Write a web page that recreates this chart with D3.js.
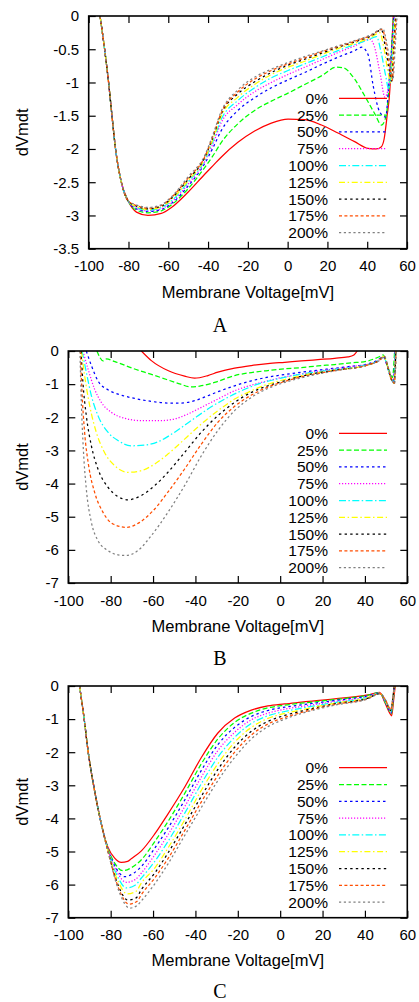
<!DOCTYPE html>
<html>
<head>
<meta charset="utf-8">
<script src="https://cdn.jsdelivr.net/npm/d3@7"></script>
<style>
  body { margin: 0; background: #fff; }
  text { font-family: "Liberation Sans", Arial, sans-serif; }
</style>
</head>
<body>
<svg id="chart" width="419" height="1002"></svg>
<script>
// legend labels and tick values
const seriesLabels = ["0%", "25%", "50%", "75%", "100%", "125%", "150%", "175%", "200%"];
const xTicks = [-100, -80, -60, -40, -20, 0, 20, 40, 60];
const yTicksA = [0, -0.5, -1, -1.5, -2, -2.5, -3, -3.5];
const yTicksB = [0, -1, -2, -3, -4, -5, -6, -7];

// gnuplot style line types
const lineColors = ["#ff0000", "#00ff00", "#0000ff", "#ff00ff", "#00ffff", "#ffff00", "#000000", "#ff4d00", "#808080"];
const lineDashes = ["", "5,2.5", "2.5,3", "1.2,1.8", "7,2.4,1.5,2.4", "6,2.6,1.5,2.6",
                    "2.4,3.2", "3,2.4", "2.2,2.6"];

// panel A : [membrane voltage, dVm/dt]
const headA = [[-94.3,0],[-92,-0.5],[-90,-1],[-88.3,-1.5],[-86.5,-2],[-83.6,-2.5],[-80.2,-2.78]];
const seriesA = [
  headA.concat([[-76,-2.95],[-70.2,-3.0],[-63.5,-2.97],[-58.4,-2.88],[-50.1,-2.65],[-41.7,-2.38],[-37.5,-2.25],[-33.3,-2.12],[-25,-1.9],[-16.6,-1.73],[-8.2,-1.61],[0.2,-1.55],[8.6,-1.56],[17,-1.64],[25.3,-1.76],[33.7,-1.89],[40.4,-1.99],[44.6,-2.0],[47,-1.97],[48.5,-1.85],[50,-1.5],[51.4,-1.1],[52.3,-0.5],[53.1,0]]),
  headA.concat([[-76,-2.92],[-70.2,-2.96],[-63.5,-2.93],[-58.4,-2.84],[-50.1,-2.6],[-41.7,-2.28],[-37.5,-2.1],[-33.3,-1.9],[-25,-1.62],[-16.6,-1.42],[-8.2,-1.28],[0.2,-1.16],[8.6,-1.03],[17,-0.9],[24.5,-0.77],[28,-0.78],[33.7,-0.95],[38.7,-1.2],[43.8,-1.47],[47.2,-1.64],[49.5,-1.5],[51,-1.05],[52.2,-0.5],[53.2,0]]),
  headA.concat([[-76,-2.9],[-70.2,-2.94],[-63.5,-2.91],[-58.4,-2.82],[-50.1,-2.56],[-41.7,-2.22],[-37.5,-1.98],[-33.3,-1.72],[-25,-1.42],[-16.6,-1.23],[-8.2,-1.08],[0.2,-0.96],[8.6,-0.85],[17,-0.73],[25.3,-0.62],[33.7,-0.52],[37.2,-0.47],[40.4,-0.58],[43,-1.05],[46.4,-1.45],[49.3,-1.52],[50.8,-1.05],[52.3,-0.5],[53.4,0]]),
  headA.concat([[-76,-2.89],[-70.2,-2.93],[-63.5,-2.9],[-58.4,-2.8],[-50.1,-2.53],[-41.7,-2.19],[-37.5,-1.92],[-33.3,-1.6],[-25,-1.33],[-16.6,-1.14],[-8.2,-1.0],[0.2,-0.88],[8.6,-0.77],[17,-0.66],[25.3,-0.55],[33.7,-0.45],[41.3,-0.35],[43.5,-0.45],[46.4,-0.85],[48.9,-1.22],[50.5,-1.1],[52.3,-0.55],[53.6,0]]),
  headA.concat([[-76,-2.88],[-70.2,-2.92],[-63.5,-2.88],[-58.4,-2.78],[-50.1,-2.5],[-41.7,-2.17],[-37.5,-1.88],[-33.3,-1.55],[-25,-1.27],[-16.6,-1.08],[-8.2,-0.93],[0.2,-0.82],[8.6,-0.72],[17,-0.62],[25.3,-0.52],[33.7,-0.43],[40.4,-0.36],[44.7,-0.31],[47,-0.55],[49.3,-0.9],[50.8,-1.1],[52.5,-0.6],[53.8,0]]),
  headA.concat([[-76,-2.87],[-70.2,-2.91],[-63.5,-2.87],[-58.4,-2.76],[-50.1,-2.48],[-41.7,-2.15],[-37.5,-1.85],[-33.3,-1.5],[-25,-1.22],[-16.6,-1.03],[-8.2,-0.88],[0.2,-0.77],[8.6,-0.68],[17,-0.58],[25.3,-0.49],[33.7,-0.41],[42,-0.32],[46.3,-0.25],[48.5,-0.5],[50.5,-0.85],[51.8,-1.0],[53,-0.5],[54,0]]),
  headA.concat([[-76,-2.86],[-70.2,-2.9],[-63.5,-2.86],[-58.4,-2.74],[-50.1,-2.46],[-41.7,-2.13],[-37.5,-1.82],[-33.3,-1.47],[-25,-1.17],[-16.6,-0.99],[-8.2,-0.85],[0.2,-0.74],[8.6,-0.65],[17,-0.56],[25.3,-0.47],[33.7,-0.39],[42,-0.3],[47.2,-0.21],[49,-0.45],[51,-0.8],[52.3,-0.98],[53.3,-0.5],[54.3,0]]),
  headA.concat([[-76,-2.85],[-70.2,-2.89],[-63.5,-2.85],[-58.4,-2.73],[-50.1,-2.44],[-41.7,-2.12],[-37.5,-1.8],[-33.3,-1.45],[-25,-1.14],[-16.6,-0.95],[-8.2,-0.82],[0.2,-0.72],[8.6,-0.63],[17,-0.54],[25.3,-0.46],[33.7,-0.38],[42,-0.29],[47.5,-0.2],[49.5,-0.42],[51.4,-0.78],[52.6,-0.97],[53.6,-0.5],[54.6,0]]),
  headA.concat([[-76,-2.84],[-70.2,-2.88],[-63.5,-2.84],[-58.4,-2.72],[-50.1,-2.42],[-41.7,-2.1],[-37.5,-1.78],[-33.3,-1.43],[-25,-1.11],[-16.6,-0.92],[-8.2,-0.8],[0.2,-0.7],[8.6,-0.61],[17,-0.53],[25.3,-0.45],[33.7,-0.37],[42,-0.28],[47.8,-0.19],[49.8,-0.4],[51.7,-0.75],[52.9,-0.96],[54,-0.5],[55,0]])
];

// panel B
const seriesB = [
  [[-65.5,0],[-60.8,-0.29],[-53,-0.59],[-45.1,-0.76],[-40.4,-0.82],[-34.1,-0.74],[-29.4,-0.64],[-21.5,-0.52],[-13.6,-0.44],[-5.8,-0.38],[2.1,-0.34],[10,-0.3],[17.8,-0.26],[25.7,-0.22],[32,-0.18],[34.8,-0.12],[36.4,0]],
  [[-86.5,0],[-83.5,-0.3],[-82,-0.24],[-78,-0.32],[-69.3,-0.53],[-60,-0.72],[-53.6,-0.86],[-47,-1.0],[-42.6,-1.08],[-38,-1.06],[-30,-0.93],[-21.5,-0.74],[-13.6,-0.65],[-5.8,-0.59],[2.1,-0.54],[10,-0.5],[17.8,-0.45],[25.7,-0.41],[33.6,-0.36],[41.4,-0.3],[46.5,-0.18],[48.5,-0.12],[50.2,-0.35],[51.8,-0.65],[53,-0.8],[54,0]],
  [[-91.5,0],[-89.1,-0.44],[-86,-0.9],[-81.3,-1.17],[-76.6,-1.3],[-68.7,-1.43],[-60.8,-1.52],[-53,-1.57],[-46.7,-1.57],[-40.4,-1.5],[-34.1,-1.35],[-29.4,-1.23],[-21.5,-1.05],[-13.6,-0.9],[-5.8,-0.79],[2.1,-0.71],[10,-0.64],[17.8,-0.58],[25.7,-0.52],[33.6,-0.46],[41.4,-0.39],[46.2,-0.27],[48.5,-0.17],[50.5,-0.45],[52.2,-0.8],[53.4,-0.93],[54.2,0]],
  [[-93.1,0],[-90.7,-0.54],[-87.6,-1.15],[-84.4,-1.55],[-79.7,-1.85],[-73.4,-2.03],[-65.5,-2.1],[-56.1,-2.1],[-49.8,-2.05],[-43.5,-1.9],[-37.2,-1.7],[-29.4,-1.45],[-21.5,-1.2],[-13.6,-1.03],[-5.8,-0.9],[2.1,-0.78],[10,-0.69],[17.8,-0.61],[25.7,-0.54],[33.6,-0.47],[41.4,-0.4],[46.5,-0.28],[48.7,-0.16],[50.6,-0.48],[52.4,-0.85],[53.5,-0.96],[54.3,0]],
  [[-93.5,0],[-91.5,-0.64],[-89.1,-1.35],[-86,-1.95],[-81.3,-2.45],[-76.6,-2.7],[-70.3,-2.86],[-64,-2.84],[-57.7,-2.74],[-49.8,-2.45],[-42,-2.1],[-34.1,-1.75],[-26.2,-1.45],[-18.3,-1.2],[-10.5,-1.0],[-2.6,-0.86],[10,-0.7],[25.7,-0.56],[41.4,-0.41],[46.6,-0.28],[48.8,-0.16],[50.7,-0.5],[52.6,-0.88],[53.6,-0.97],[54.4,0]],
  [[-93.8,0],[-92.3,-0.74],[-89.9,-1.65],[-86.8,-2.45],[-82.9,-3.06],[-78.1,-3.46],[-71.8,-3.66],[-65.5,-3.61],[-59.2,-3.41],[-53,-3.11],[-45.1,-2.66],[-37.2,-2.2],[-29.4,-1.8],[-21.5,-1.45],[-13.6,-1.2],[-5.8,-1.0],[2.1,-0.86],[10,-0.74],[25.7,-0.58],[41.4,-0.42],[46.7,-0.28],[48.9,-0.16],[50.8,-0.5],[52.7,-0.9],[53.7,-0.97],[54.5,0]],
  [[-94,0],[-93.1,-0.95],[-91.5,-1.95],[-89.1,-2.86],[-86,-3.56],[-81.3,-4.11],[-76.6,-4.39],[-71.8,-4.49],[-65.5,-4.36],[-59.2,-4.06],[-53,-3.66],[-45.1,-3.06],[-37.2,-2.45],[-29.4,-1.95],[-21.5,-1.55],[-13.6,-1.25],[-5.8,-1.05],[2.1,-0.9],[10,-0.76],[25.7,-0.58],[41.4,-0.42],[46.8,-0.28],[49,-0.16],[50.9,-0.52],[52.8,-0.9],[53.8,-0.97],[54.6,0]],
  [[-94.3,0],[-93.6,-1.15],[-92.3,-2.45],[-90.4,-3.46],[-87.6,-4.26],[-83.6,-4.87],[-78.9,-5.22],[-72.6,-5.32],[-66.3,-5.17],[-60,-4.82],[-53,-4.26],[-45.1,-3.56],[-37.2,-2.81],[-29.4,-2.15],[-21.5,-1.67],[-13.6,-1.33],[-5.8,-1.09],[2.1,-0.92],[10,-0.78],[25.7,-0.59],[41.4,-0.42],[46.9,-0.28],[49.1,-0.16],[51,-0.52],[52.9,-0.9],[53.9,-0.97],[54.7,0]],
  [[-94.5,0],[-93.9,-1.45],[-92.9,-2.96],[-91.5,-4.16],[-89.1,-5.17],[-86,-5.72],[-81.3,-6.02],[-76.6,-6.15],[-72.6,-6.17],[-67.1,-6.02],[-60.8,-5.57],[-53,-4.87],[-45.1,-4.06],[-37.2,-3.16],[-29.4,-2.4],[-21.5,-1.8],[-13.6,-1.4],[-5.8,-1.13],[2.1,-0.95],[10,-0.81],[25.7,-0.6],[41.4,-0.42],[47,-0.28],[49.2,-0.16],[51.1,-0.52],[53,-0.9],[54,-0.97],[54.8,0]]
];

// panel C
const headC = [[-94.7,0],[-92.5,-1.0],[-90.7,-1.95],[-87.6,-3.16],[-84.4,-4.17]];
const seriesC = [
  headC.concat([[-81.3,-4.87],[-78.1,-5.2],[-75,-5.33],[-72,-5.3],[-70.3,-5.22],[-65.5,-4.98],[-59.2,-4.47],[-53,-3.87],[-45.1,-3.06],[-37.2,-2.16],[-29.4,-1.42],[-21.5,-0.97],[-13.6,-0.73],[-5.8,-0.6],[2.1,-0.54],[10,-0.49],[25.7,-0.39],[41.4,-0.27],[46.9,-0.19],[49.4,-0.5],[51.7,-0.82],[52.6,-0.9],[53.6,-0.4],[54.3,0]]),
  headC.concat([[-81.3,-4.9],[-78.1,-5.35],[-74.2,-5.58],[-70,-5.48],[-65.5,-5.25],[-59.2,-4.7],[-53,-4.1],[-45.1,-3.25],[-37.2,-2.35],[-29.4,-1.6],[-21.5,-1.1],[-13.6,-0.82],[-5.8,-0.66],[2.1,-0.58],[10,-0.52],[25.7,-0.41],[41.4,-0.28],[46.9,-0.2],[49.5,-0.48],[51.6,-0.76],[52.4,-0.84],[53.4,-0.4],[54.1,0]]),
  headC.concat([[-81.3,-4.92],[-77.5,-5.5],[-73.4,-5.76],[-69,-5.65],[-65.5,-5.45],[-59.2,-4.9],[-53,-4.3],[-45.1,-3.45],[-37.2,-2.55],[-29.4,-1.77],[-21.5,-1.25],[-13.6,-0.92],[-5.8,-0.74],[2.1,-0.64],[10,-0.57],[25.7,-0.44],[41.4,-0.3],[46.9,-0.21],[49.5,-0.47],[51.5,-0.74],[52.3,-0.82],[53.3,-0.4],[54,0]]),
  headC.concat([[-81.3,-4.94],[-77,-5.62],[-72.6,-5.93],[-68.5,-5.85],[-65.5,-5.65],[-59.2,-5.1],[-53,-4.5],[-45.1,-3.65],[-37.2,-2.75],[-29.4,-1.95],[-21.5,-1.4],[-13.6,-1.02],[-5.8,-0.82],[2.1,-0.7],[10,-0.62],[25.7,-0.47],[41.4,-0.32],[46.9,-0.21],[49.6,-0.46],[51.5,-0.72],[52.3,-0.8],[53.3,-0.4],[54,0]]),
  headC.concat([[-81.3,-4.96],[-76.8,-5.75],[-72.6,-6.1],[-68.5,-6.02],[-65.5,-5.8],[-59.2,-5.3],[-53,-4.7],[-45.1,-3.85],[-37.2,-2.95],[-29.4,-2.15],[-21.5,-1.55],[-13.6,-1.13],[-5.8,-0.9],[2.1,-0.77],[10,-0.67],[25.7,-0.5],[41.4,-0.34],[46.9,-0.22],[49.6,-0.45],[51.4,-0.7],[52.2,-0.78],[53.2,-0.4],[53.9,0]]),
  headC.concat([[-81.3,-4.97],[-76.5,-5.9],[-72.2,-6.28],[-68,-6.2],[-65.5,-5.95],[-59.2,-5.5],[-53,-4.9],[-45.1,-4.05],[-37.2,-3.15],[-29.4,-2.35],[-21.5,-1.7],[-13.6,-1.25],[-5.8,-0.98],[2.1,-0.83],[10,-0.72],[25.7,-0.52],[41.4,-0.35],[46.9,-0.22],[49.6,-0.44],[51.4,-0.68],[52.2,-0.76],[53.2,-0.4],[53.9,0]]),
  headC.concat([[-81.3,-4.98],[-76.3,-6.05],[-71.8,-6.47],[-68,-6.4],[-65.5,-6.15],[-59.2,-5.65],[-53,-5.05],[-45.1,-4.2],[-37.2,-3.33],[-29.4,-2.52],[-21.5,-1.85],[-13.6,-1.37],[-5.8,-1.07],[2.1,-0.89],[10,-0.76],[25.7,-0.54],[41.4,-0.37],[46.9,-0.23],[49.7,-0.43],[51.3,-0.66],[52.1,-0.74],[53.1,-0.4],[53.8,0]]),
  headC.concat([[-81.3,-4.99],[-76,-6.15],[-71.4,-6.59],[-67.5,-6.5],[-65.5,-6.3],[-59.2,-5.8],[-53,-5.22],[-45.1,-4.37],[-37.2,-3.5],[-29.4,-2.7],[-21.5,-2.0],[-13.6,-1.48],[-5.8,-1.15],[2.1,-0.95],[10,-0.8],[25.7,-0.56],[41.4,-0.38],[46.9,-0.23],[49.7,-0.42],[51.3,-0.64],[52.1,-0.72],[53.1,-0.4],[53.8,0]]),
  headC.concat([[-81.3,-5.0],[-75.8,-6.25],[-71,-6.71],[-67.5,-6.63],[-65.5,-6.49],[-59.2,-5.98],[-53,-5.38],[-45.1,-4.52],[-37.2,-3.67],[-29.4,-2.86],[-21.5,-2.16],[-13.6,-1.6],[-5.8,-1.23],[2.1,-1.0],[10,-0.83],[25.7,-0.58],[41.4,-0.39],[46.9,-0.24],[49.7,-0.42],[51.3,-0.63],[52.1,-0.7],[53.1,-0.4],[53.8,0]])
];

// layout of the three stacked panels (pixels)
const panels = [
  {series: seriesA, yTicks: yTicksA, yMin: -3.5, letter: "A", left: 88.7, right: 407, top: 16, bottom: 248.7, keyTop: 98.3, titleY: 297.5, letterY: 332},
  {series: seriesB, yTicks: yTicksB, yMin: -7, letter: "B", left: 68.3, right: 407.3, top: 351, bottom: 583, keyTop: 433.3, titleY: 632, letterY: 665},
  {series: seriesC, yTicks: yTicksB, yMin: -7, letter: "C", left: 68.3, right: 407.3, top: 686, bottom: 917.7, keyTop: 767.7, titleY: 966, letterY: 998}
];

const svg = d3.select("#chart");
const tickLen = 7;
const keyStep = 16.8;

panels.forEach(function(p, pi) {
    let x = d3.scaleLinear().domain([-100, 60]).range([p.left, p.right]);
    let y = d3.scaleLinear().domain([p.yMin, 0]).range([p.bottom, p.top]);
    let g = svg.append("g");

    g.append("clipPath").attr("id", "clip" + pi)
        .append("rect")
        .attr("x", p.left).attr("y", p.top)
        .attr("width", p.right - p.left).attr("height", p.bottom - p.top);

    let line = d3.line()
        .x(function(d) { return x(d[0]); })
        .y(function(d) { return y(d[1]); })
        .curve(d3.curveMonotoneX);

    g.append("g")
        .attr("clip-path", "url(#clip" + pi + ")")
        .selectAll("path")
        .data(p.series)
        .join("path")
        .attr("d", line)
        .attr("fill", "none")
        .attr("stroke", function(d, i) { return lineColors[i]; })
        .attr("stroke-width", 1.25)
        .attr("stroke-dasharray", function(d, i) { return lineDashes[i]; });

    // axes, ticks pointing inward on all four sides
    let fmt = function(d) { return String(d); };
    let bottomAxis = g.append("g")
        .attr("transform", `translate(0, ${p.bottom})`)
        .call(d3.axisBottom(x).tickValues(xTicks).tickSizeInner(-tickLen).tickSizeOuter(0).tickPadding(12).tickFormat(fmt));
    let leftAxis = g.append("g")
        .attr("transform", `translate(${p.left}, 0)`)
        .call(d3.axisLeft(y).tickValues(p.yTicks).tickSizeInner(-tickLen).tickSizeOuter(0).tickPadding(9.5).tickFormat(fmt));
    g.append("g")
        .attr("transform", `translate(0, ${p.top})`)
        .call(d3.axisTop(x).tickValues(xTicks).tickSizeInner(-tickLen).tickSizeOuter(0).tickFormat(""));
    g.append("g")
        .attr("transform", `translate(${p.right}, 0)`)
        .call(d3.axisRight(y).tickValues(p.yTicks).tickSizeInner(-tickLen).tickSizeOuter(0).tickFormat(""));

    g.selectAll(".domain").remove();
    g.selectAll(".tick line").attr("stroke", "#000").attr("stroke-width", 1.2);
    [bottomAxis, leftAxis].forEach(function(a) {
        a.attr("font-family", null).attr("font-size", null);
        a.selectAll("text").style("font-size", "15px").attr("fill", "#000");
    });

    g.append("rect")
        .attr("x", p.left).attr("y", p.top)
        .attr("width", p.right - p.left).attr("height", p.bottom - p.top)
        .attr("fill", "none")
        .attr("stroke", "#000")
        .attr("stroke-width", 1.6);

    // key
    let key = g.append("g").selectAll("g")
        .data(seriesLabels)
        .join("g")
        .attr("transform", function(d, i) { return `translate(0, ${p.keyTop + i * keyStep})`; });
    key.append("text")
        .attr("x", 328)
        .attr("dy", "0.36em")
        .style("text-anchor", "end")
        .style("font-size", "15.5px")
        .text(function(d) { return d; });
    key.append("line")
        .attr("x1", 339).attr("x2", 387)
        .attr("stroke", function(d, i) { return lineColors[i]; })
        .attr("stroke-width", 1.25)
        .attr("stroke-dasharray", function(d, i) { return lineDashes[i]; });

    // axis titles and panel letter
    g.append("text")
        .attr("transform", `translate(${(p.left + p.right) / 2}, ${p.titleY})`)
        .style("text-anchor", "middle")
        .style("font-size", "16.5px")
        .text("Membrane Voltage[mV]");
    g.append("text")
        .attr("transform", `translate(27.5, ${(p.top + p.bottom) / 2}) rotate(-90)`)
        .style("text-anchor", "middle")
        .style("font-size", "16.5px")
        .text("dVmdt");
    g.append("text")
        .attr("x", 220).attr("y", p.letterY)
        .style("text-anchor", "middle")
        .style("font-family", "'Liberation Serif', 'Times New Roman', serif")
        .style("font-size", "20px")
        .text(p.letter);
});
</script>
</body>
</html>
